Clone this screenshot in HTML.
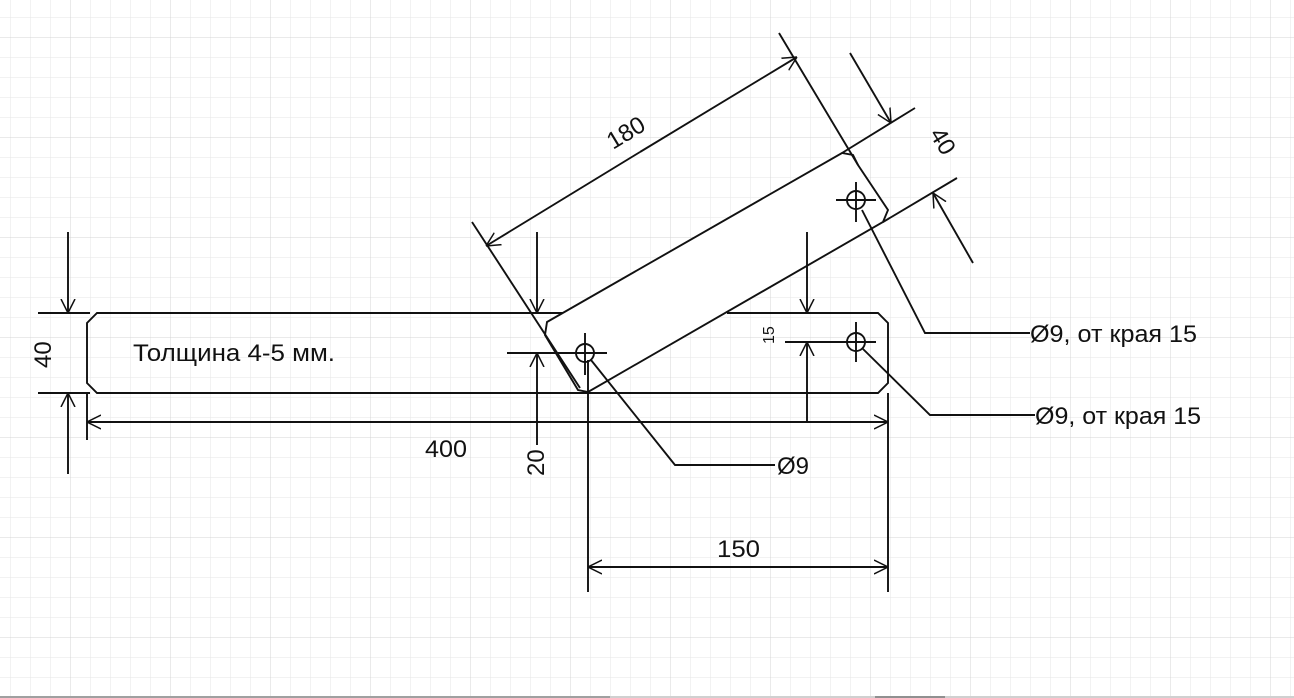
<!DOCTYPE html>
<html><head><meta charset="utf-8"><style>
html,body{margin:0;padding:0;background:#fff;width:1294px;height:698px;overflow:hidden}
svg{display:block}
text{font-family:"Liberation Sans",sans-serif;fill:#111}
</style></head><body>
<svg width="1294" height="698" viewBox="0 0 1294 698" xmlns="http://www.w3.org/2000/svg">
<defs>
<pattern id="g" x="10" y="17" width="20" height="20" patternUnits="userSpaceOnUse">
<path d="M0 0H20M0 0V20" stroke="#e6e6e6" stroke-width="1" fill="none"/>
</pattern>
<pattern id="G" x="70" y="37" width="100" height="100" patternUnits="userSpaceOnUse">
<path d="M0 0H100M0 0V100" stroke="#d4d4d4" stroke-width="1" fill="none"/>
</pattern>
<marker id="a" viewBox="0 0 14 16" refX="14" refY="8" markerWidth="14" markerHeight="16" orient="auto" markerUnits="userSpaceOnUse">
<path d="M0 1L14 8L0 15" fill="none" stroke="#111" stroke-width="1.5"/>
</marker>
</defs>
<rect width="1294" height="698" fill="url(#g)"/>
<rect width="1294" height="698" fill="url(#G)"/>
<rect x="0" y="696" width="610" height="2" fill="#a0a0a0"/>
<rect x="610" y="696" width="684" height="2" fill="#d0d0d0"/>
<rect x="875" y="696" width="70" height="2" fill="#909090"/>

<g stroke="#111" stroke-width="1.9" fill="none">
<path d="M572 313H97L87 323V383L97 393H878L888 383V323L878 313H727"/>
<path d="M547 322L842 153L853 155L858 165L888 210L883 222L588 392L578 390L545 335Z" fill="#fff"/>
<circle cx="585" cy="353" r="9"/><path d="M565 353H607M585 333V375"/>
<circle cx="856" cy="200" r="9"/><path d="M836 200H876M856 182V222"/>
<circle cx="856" cy="342" r="9"/><path d="M836 342H876M856 322V362"/>

<path d="M38 313H90M38 393H90"/>
<path d="M68 232V313" marker-end="url(#a)"/>
<path d="M68 474V393" marker-end="url(#a)"/>
<path d="M87 393V440M888 393V592"/>
<path d="M300 422H87" marker-end="url(#a)"/>
<path d="M300 422H888" marker-end="url(#a)"/>
<path d="M588 360V592"/>
<path d="M740 567H588" marker-end="url(#a)"/>
<path d="M740 567H888" marker-end="url(#a)"/>
<path d="M507 353H567"/>
<path d="M537 232V313" marker-end="url(#a)"/>
<path d="M537 445V353" marker-end="url(#a)"/>
<path d="M785 342H836"/>
<path d="M807 232V313" marker-end="url(#a)"/>
<path d="M807 422V342" marker-end="url(#a)"/>
<path d="M472 222L580 388M779 33L858 165"/>
<path d="M640 152L486 246" marker-end="url(#a)"/>
<path d="M640 152L797 57" marker-end="url(#a)"/>
<path d="M842 153L915 108M883 222L957 178"/>
<path d="M850 53L891 123" marker-end="url(#a)"/>
<path d="M973 263L933 193" marker-end="url(#a)"/>
<path d="M862 210L925 333H1030"/>
<path d="M862 348L930 415H1035"/>
<path d="M591 360L675 465H775"/>
</g>

<text x="133" y="361" font-size="24" textLength="202" lengthAdjust="spacingAndGlyphs">Толщина 4-5 мм.</text>
<text x="425" y="457" font-size="24" textLength="42" lengthAdjust="spacingAndGlyphs">400</text>
<text x="717" y="557" font-size="24" textLength="43" lengthAdjust="spacingAndGlyphs">150</text>
<text x="1030" y="342" font-size="24" textLength="167" lengthAdjust="spacingAndGlyphs">Ø9, от края 15</text>
<text x="1035" y="424" font-size="24" textLength="166" lengthAdjust="spacingAndGlyphs">Ø9, от края 15</text>
<text x="777" y="474" font-size="24" textLength="32" lengthAdjust="spacingAndGlyphs">Ø9</text>
<text transform="translate(51,368) rotate(-90)" font-size="24">40</text>
<text transform="translate(544,476) rotate(-90)" font-size="24">20</text>
<text transform="translate(774,344) rotate(-90)" font-size="16">15</text>
<text transform="translate(613,150) rotate(-31.3)" font-size="24">180</text>
<text transform="translate(929,134) rotate(58.7)" font-size="24">40</text>
</svg>
</body></html>
